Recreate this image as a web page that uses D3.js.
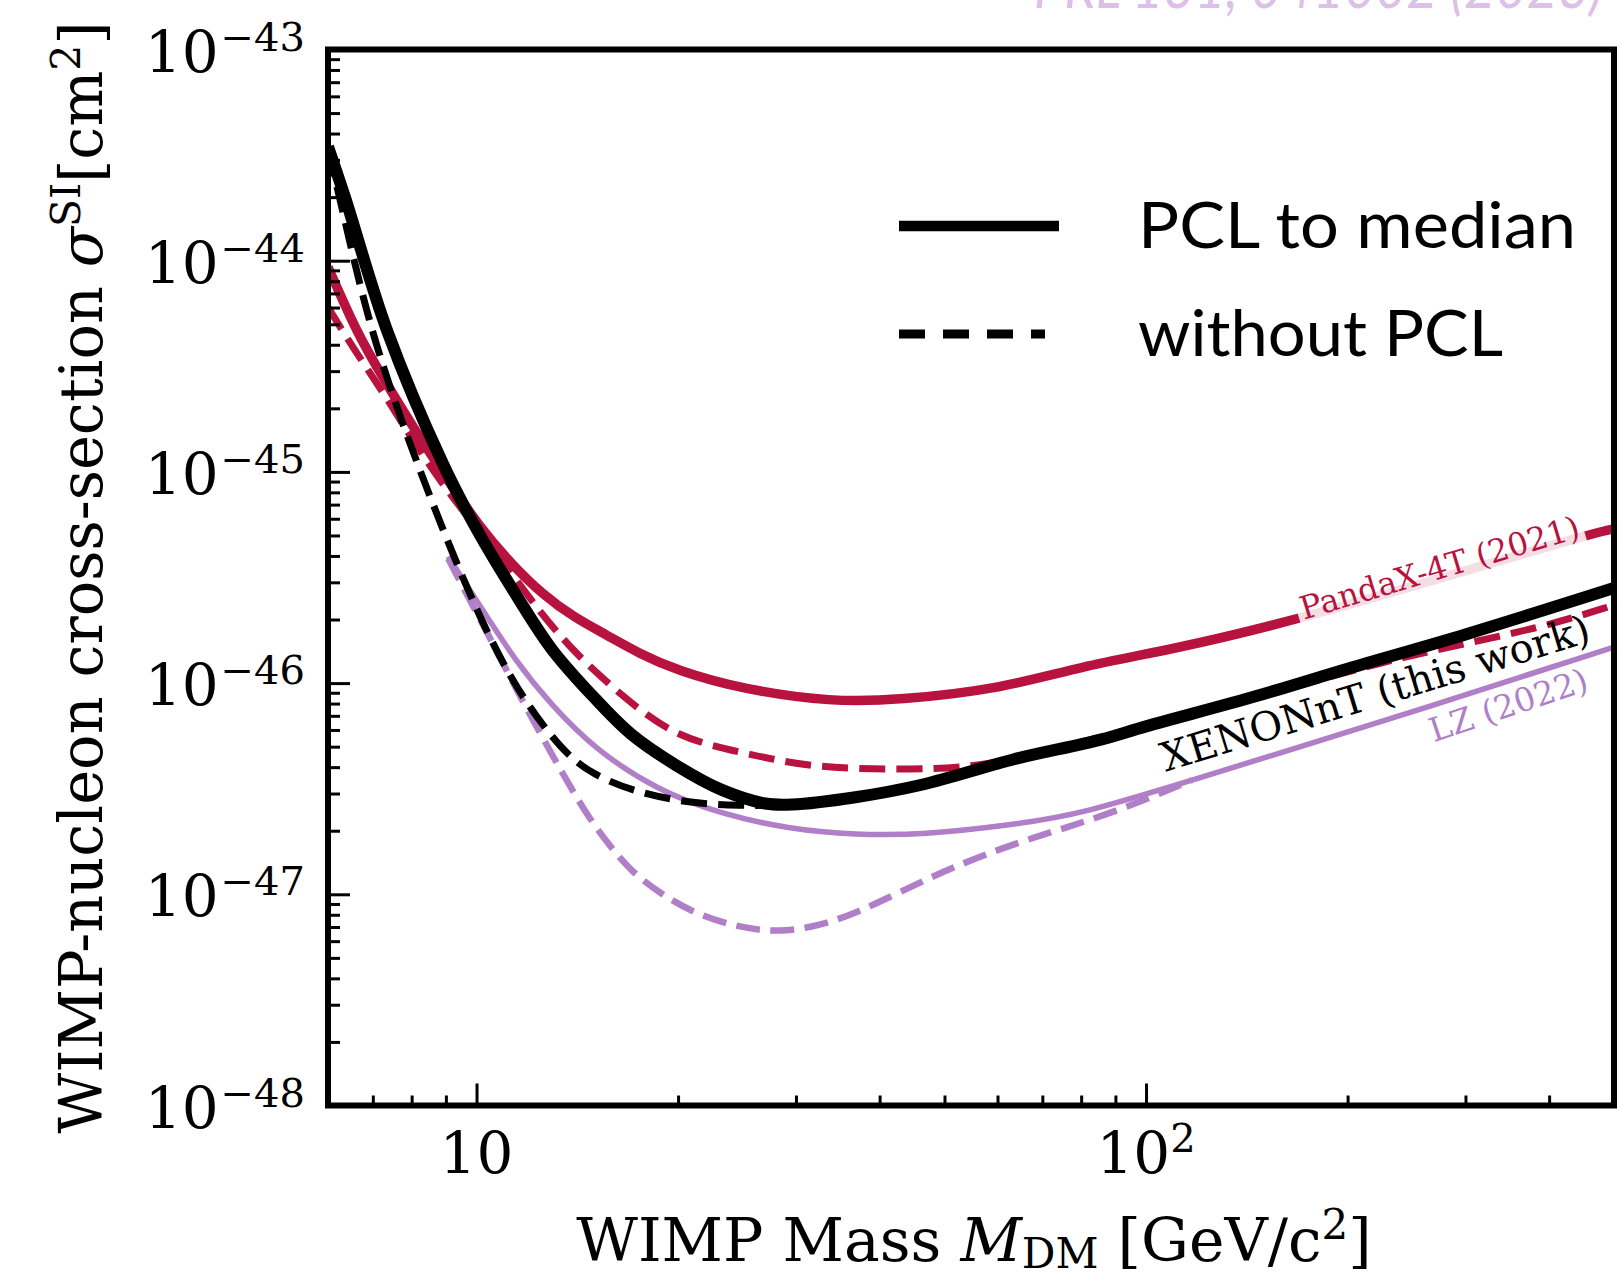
<!DOCTYPE html>
<html>
<head>
<meta charset="utf-8">
<script src="https://cdn.jsdelivr.net/npm/d3@7"></script>
<style>
  html, body { margin: 0; padding: 0; background: #fff; }
  svg { display: block; }
</style>
</head>
<body>
<svg id="chart" width="1619" height="1280"></svg>
<script>
// ---- Exclusion limits: WIMP mass [GeV/c^2] vs SI cross-section [cm^2] ----

// XENONnT, power-constrained to the median sensitivity
const xenonPclMass = [6, 6.36, 7.35, 8.9, 10, 11.55, 12.95, 14.9, 17, 19.9, 23.2, 27, 29.6, 36.8, 46.4, 63.7, 85, 100, 146.6, 200, 300, 500];
const xenonPclXs   = [3.47e-44, 2.0e-44, 4.68e-45, 1.10e-45, 5.37e-46, 2.51e-46, 1.45e-46, 8.71e-47, 5.75e-47, 4.07e-47, 3.13e-47, 2.69e-47, 2.66e-47, 2.88e-47, 3.31e-47, 4.37e-47, 5.37e-47, 6.24e-47, 8.71e-47, 1.17e-46, 1.70e-46, 2.82e-46];

// XENONnT without power constraint (differs only at low mass)
const xenonRawMass = [6, 6.25, 6.92, 8.13, 9.76, 11.3, 12.9, 13.9, 14.9, 17, 20.8, 25, 27.5];
const xenonRawXs   = [3.31e-44, 2.0e-44, 4.68e-45, 1.10e-45, 2.57e-46, 1.0e-46, 5.62e-47, 4.37e-47, 3.72e-47, 3.09e-47, 2.69e-47, 2.63e-47, 2.64e-47];

// PandaX-4T (2021), with and without power constraint
const pandaxPclMass = [6, 6.5, 6.92, 8.22, 9.2, 10.1, 11.3, 12.55, 14, 15.6, 17.5, 19.9, 25, 34, 42.7, 60, 80, 110, 171, 463, 500];
const pandaxPclXs   = [9.33e-45, 5.25e-45, 3.55e-45, 1.45e-45, 8.51e-46, 5.50e-46, 3.63e-46, 2.63e-46, 2.04e-46, 1.70e-46, 1.38e-46, 1.15e-46, 9.33e-47, 8.13e-47, 8.32e-47, 9.33e-47, 1.20e-46, 1.45e-46, 2.0e-46, 5.13e-46, 5.37e-46];
const pandaxRawMass = [6, 6.53, 7.35, 8.2, 9.44, 10.6, 12, 13.8, 16.6, 19.9, 25, 31.5, 42.7, 55.6, 70, 94, 150, 207, 262, 388, 500];
const pandaxRawXs   = [6.03e-45, 3.89e-45, 2.24e-45, 1.26e-45, 6.76e-46, 4.37e-46, 2.51e-46, 1.45e-46, 8.51e-47, 5.50e-47, 4.68e-47, 3.98e-47, 3.89e-47, 3.98e-47, 4.68e-47, 6.03e-47, 8.71e-47, 1.17e-46, 1.41e-46, 1.82e-46, 2.34e-46];

// LZ (2022), with and without power constraint
const lzPclMass = [9.07, 10.1, 11.4, 12.9, 15.1, 18.7, 23.2, 29.2, 36.8, 46.4, 63.7, 80.2, 117, 207, 500];
const lzPclXs   = [3.98e-46, 2.34e-46, 1.29e-46, 7.94e-47, 4.79e-47, 3.09e-47, 2.40e-47, 2.04e-47, 1.91e-47, 1.91e-47, 2.14e-47, 2.40e-47, 3.47e-47, 6.03e-47, 1.48e-46];
const lzRawMass = [9.07, 9.67, 10.45, 11.13, 12.02, 12.97, 13.8, 14.67, 15.8, 17, 18.7, 21.4, 25, 28.3, 32.5, 36.8, 42.8, 51.5, 66, 86.9, 117];
const lzRawXs   = [3.89e-46, 2.63e-46, 1.66e-46, 1.12e-46, 7.08e-47, 4.57e-47, 3.24e-47, 2.34e-47, 1.70e-47, 1.29e-47, 1.02e-47, 7.94e-48, 6.92e-48, 6.61e-48, 7.08e-48, 8.13e-48, 1.02e-47, 1.35e-47, 1.82e-47, 2.34e-47, 3.47e-47];

// Axis ticks
const xMajorTicks = [10, 100];
const xTickBase = ["10", "10"];
const xTickExp = ["", "2"];
const xMinorTicks = [7, 8, 9, 20, 30, 40, 50, 60, 70, 80, 90, 200, 300, 400];
const yMajorTicks = [1e-43, 1e-44, 1e-45, 1e-46, 1e-47, 1e-48];
const yTickExp = ["\u221243", "\u221244", "\u221245", "\u221246", "\u221247", "\u221248"];
const yMinorTicks = [];
for (let e = -48; e < -43; e++) for (let k = 2; k <= 9; k++) yMinorTicks.push(k * Math.pow(10, e));

// Curve labels
const curveLabels = ["PandaX-4T (2021)", "XENONnT (this work)", "LZ (2022)"];
const curveLabelMass = [172, 107, 269];
const curveLabelXs = [2.04e-46, 3.89e-47, 5.37e-47];

// Legend entries
const legendLabels = ["PCL to median", "without PCL"];
const reference = "PRL 131, 041002 (2023)";

// ---- Layout ----
const plotL = 328, plotR = 1614, plotT = 49.5, plotB = 1105.5;
const serif = "'DejaVu Serif', serif";
const sans = "Lato, 'Open Sans', sans-serif";
const crimson = "#b8123f";
const lavender = "#b07fc8";

const svg = d3.select("#chart");

const x = d3.scaleLog().domain([6, 500]).range([plotL, plotR]);
const y = d3.scaleLog().domain([1e-48, 1e-43]).range([plotB, plotT]);

svg.append("defs").append("clipPath").attr("id", "plotClip")
  .append("rect").attr("x", plotL).attr("y", plotT)
  .attr("width", plotR - plotL).attr("height", plotB - plotT);

const zip = (m, s) => m.map((v, i) => [v, s[i]]);
const smoothLine = d3.line().x(d => x(d[0])).y(d => y(d[1])).curve(d3.curveBasis);
const sharpLine = d3.line().x(d => x(d[0])).y(d => y(d[1])).curve(d3.curveCatmullRom.alpha(0.5));

const curves = [
  { pts: zip(lzRawMass, lzRawXs), color: lavender, w: 6.5, dashed: true, gen: smoothLine },
  { pts: zip(lzPclMass, lzPclXs), color: lavender, w: 5.5, dashed: false, gen: smoothLine },
  { pts: zip(pandaxRawMass, pandaxRawXs), color: crimson, w: 7, dashed: true, gen: smoothLine },
  { pts: zip(pandaxPclMass, pandaxPclXs), color: crimson, w: 9.5, dashed: false, gen: smoothLine },
  { pts: zip(xenonRawMass, xenonRawXs), color: "#000", w: 7, dashed: true, gen: smoothLine },
  { pts: zip(xenonPclMass, xenonPclXs), color: "#000", w: 12, dashed: false, gen: sharpLine }
];

const gLines = svg.append("g").attr("clip-path", "url(#plotClip)");
curves.forEach(c => {
  gLines.append("path")
    .attr("d", c.gen(c.pts))
    .attr("fill", "none")
    .attr("stroke", c.color)
    .attr("stroke-width", c.w)
    .attr("stroke-linejoin", "round")
    .attr("stroke-dasharray", c.dashed ? `${3.7 * c.w},${1.6 * c.w}` : null);
});

// ---- In-line curve labels ----
const labelStyle = [
  { color: crimson, size: 32, angle: -16.6, box: true },
  { color: "#000", size: 40, angle: -17, box: false },
  { color: lavender, size: 33, angle: -18.5, box: false }
];
curveLabels.forEach((txt, i) => {
  const st = labelStyle[i];
  const g = svg.append("g")
    .attr("transform", `translate(${x(curveLabelMass[i])},${y(curveLabelXs[i]) + 2}) rotate(${st.angle})`);
  const box = g.append("rect");
  const t = g.append("text")
    .attr("x", 0).attr("y", 0)
    .attr("font-family", serif).attr("font-size", st.size)
    .attr("fill", st.color).text(txt);
  if (st.box) {
    const len = t.node().getComputedTextLength();
    box.attr("x", -4).attr("y", -st.size * 0.8).attr("width", len + 8).attr("height", st.size * 1.08)
      .attr("fill", "#fff").attr("fill-opacity", 0.86);
  } else box.remove();
});

// ---- Axes: inward ticks ----
function styleTicks(g) {
  g.select(".domain").remove();
  g.selectAll(".tick line").attr("stroke", "#000").attr("stroke-width", 3);
  g.selectAll(".tick text").remove();
}
svg.append("g").attr("transform", `translate(0,${plotB})`)
  .call(d3.axisBottom(x).tickValues(xMajorTicks).tickSize(-22).tickFormat(""))
  .call(styleTicks);
svg.append("g").attr("transform", `translate(0,${plotB})`)
  .call(d3.axisBottom(x).tickValues(xMinorTicks).tickSize(-10).tickFormat(""))
  .call(styleTicks);
svg.append("g").attr("transform", `translate(${plotL},0)`)
  .call(d3.axisLeft(y).tickValues(yMajorTicks).tickSize(-22).tickFormat(""))
  .call(styleTicks);
svg.append("g").attr("transform", `translate(${plotL},0)`)
  .call(d3.axisLeft(y).tickValues(yMinorTicks).tickSize(-12).tickFormat(""))
  .call(styleTicks);

// Frame
svg.append("rect")
  .attr("x", plotL).attr("y", plotT)
  .attr("width", plotR - plotL).attr("height", plotB - plotT)
  .attr("fill", "none").attr("stroke", "#000").attr("stroke-width", 6);

// Tick labels (power-of-ten notation)
svg.append("g").selectAll("text").data(yMajorTicks).join("text")
  .attr("x", 305).attr("y", d => y(d) + 22)
  .attr("text-anchor", "end")
  .attr("font-family", serif).attr("font-size", 58).attr("fill", "#000")
  .each(function (d, i) {
    const t = d3.select(this);
    t.append("tspan").text("10");
    t.append("tspan").attr("dx", 2).attr("dy", -21).attr("font-size", 40).text(yTickExp[i]);
  });

svg.append("g").selectAll("text").data(xMajorTicks).join("text")
  .attr("x", d => x(d)).attr("y", 1173)
  .attr("text-anchor", "middle")
  .attr("font-family", serif).attr("font-size", 58).attr("fill", "#000")
  .each(function (d, i) {
    const t = d3.select(this);
    t.append("tspan").text(xTickBase[i]);
    if (xTickExp[i]) t.append("tspan").attr("dy", -21).attr("font-size", 40).text(xTickExp[i]);
  });

// Axis titles
const xl = svg.append("text")
  .attr("x", (plotL + plotR) / 2 + 3).attr("y", 1261)
  .attr("text-anchor", "middle")
  .attr("font-family", serif).attr("font-size", 60).attr("fill", "#000");
xl.append("tspan").text("WIMP Mass ");
xl.append("tspan").attr("font-style", "italic").text("M");
xl.append("tspan").attr("font-size", 42).attr("dy", 7).text("DM");
xl.append("tspan").attr("dy", -7).text(" [GeV/c");
xl.append("tspan").attr("font-size", 42).attr("dy", -22).text("2");
xl.append("tspan").attr("dy", 22).text("]");

const yl = svg.append("text")
  .attr("transform", `translate(102,${(plotT + plotB) / 2}) rotate(-90)`)
  .attr("text-anchor", "middle")
  .attr("font-family", serif).attr("font-size", 59).attr("fill", "#000");
yl.append("tspan").text("WIMP-nucleon cross-section ");
yl.append("tspan").attr("font-style", "italic").text("\u03c3");
yl.append("tspan").attr("font-size", 41).attr("dy", -22).text("SI");
yl.append("tspan").attr("dy", 22).text("[cm");
yl.append("tspan").attr("font-size", 41).attr("dy", -22).text("2");
yl.append("tspan").attr("dy", 22).text("]");

// ---- Legend ----
const legendY = [226, 334];
svg.append("line").attr("x1", 899).attr("x2", 1059).attr("y1", legendY[0]).attr("y2", legendY[0])
  .attr("stroke", "#000").attr("stroke-width", 10.5);
svg.append("line").attr("x1", 899).attr("x2", 1045).attr("y1", legendY[1]).attr("y2", legendY[1])
  .attr("stroke", "#000").attr("stroke-width", 9).attr("stroke-dasharray", "26,18");
const legendWidths = [438, 365];
legendLabels.forEach((s, i) => {
  svg.append("text").attr("x", 1138).attr("y", legendY[i] + 22)
    .attr("font-family", sans).attr("font-size", 63).attr("fill", "#000")
    .attr("textLength", legendWidths[i]).attr("lengthAdjust", "spacingAndGlyphs")
    .text(s);
});

// Publication reference, top right
svg.append("text").attr("x", 1603).attr("y", 8)
  .attr("text-anchor", "end")
  .attr("font-family", sans).attr("font-style", "italic").attr("font-size", 62)
  .attr("fill", "#dcc0e7")
  .attr("textLength", 569).attr("lengthAdjust", "spacingAndGlyphs")
  .text(reference);
</script>
</body>
</html>
